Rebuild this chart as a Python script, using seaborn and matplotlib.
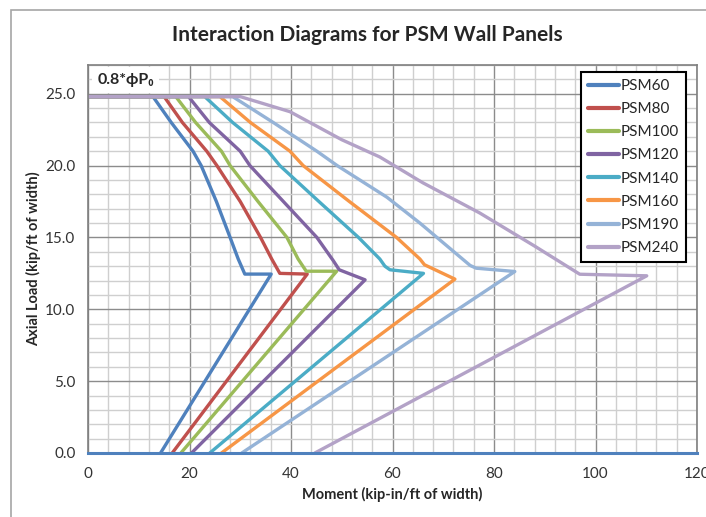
import matplotlib
matplotlib.use('Agg')
import matplotlib.pyplot as plt
from matplotlib import font_manager
from matplotlib.patches import Rectangle
from matplotlib.ticker import MultipleLocator, FormatStrFormatter
import seaborn as sns
import pandas as pd

# --- Data (moment in kip-in/ft, axial load in kip/ft) ---
psm60_m = [0, 12.8, 16.4, 20.7, 22.3, 25.3, 28.0, 29.6, 30.9, 36.1, 14.3]
psm60_p = [24.8, 24.8, 23.0, 21.0, 20.0, 17.5, 15.0, 13.5, 12.45, 12.45, 0.0]

psm80_m = [0, 15.0, 18.6, 23.4, 25.4, 30.0, 34.0, 36.2, 37.8, 43.2, 16.6]
psm80_p = [24.8, 24.8, 23.0, 21.0, 20.0, 17.5, 15.0, 13.5, 12.5, 12.45, 0.0]

psm100_m = [0, 17.3, 21.2, 26.3, 28.0, 33.5, 39.2, 41.4, 43.0, 49.0, 18.3]
psm100_p = [24.8, 24.8, 23.0, 21.0, 20.0, 17.5, 15.0, 13.5, 12.65, 12.65, 0.0]

psm120_m = [0, 19.8, 23.9, 30.0, 31.9, 38.5, 45.1, 48.3, 49.5, 54.6, 20.4]
psm120_p = [24.8, 24.8, 23.0, 21.0, 20.0, 17.5, 15.0, 13.4, 12.75, 12.05, 0.0]

psm140_m = [0, 23.0, 28.5, 35.5, 37.8, 45.5, 53.3, 57.5, 58.5, 59.5, 66.1, 24.0]
psm140_p = [24.8, 24.8, 23.0, 21.0, 20.0, 17.5, 15.0, 13.5, 13.0, 12.75, 12.5, 0.0]

psm160_m = [0, 26.0, 32.0, 39.8, 42.4, 51.5, 60.8, 65.4, 66.3, 72.3, 26.3]
psm160_p = [24.8, 24.8, 23.0, 21.0, 20.0, 17.5, 15.0, 13.5, 13.1, 12.1, 0.0]

psm190_m = [0, 28.5, 36.5, 45.1, 49.1, 58.9, 65.4, 75.3, 76.5, 84.1, 30.3]
psm190_p = [24.8, 24.8, 23.0, 21.0, 20.0, 17.8, 16.0, 13.05, 12.86, 12.63, 0.0]

psm240_m = [0, 30.0, 39.8, 50.0, 57.5, 66.0, 77.2, 88.0, 96.9, 110.1, 44.7]
psm240_p = [24.8, 24.8, 23.75, 21.8, 20.6, 18.8, 16.7, 14.4, 12.44, 12.33, 0.0]

panels = ['PSM60', 'PSM80', 'PSM100', 'PSM120', 'PSM140', 'PSM160', 'PSM190', 'PSM240']
moments = [psm60_m, psm80_m, psm100_m, psm120_m, psm140_m, psm160_m, psm190_m, psm240_m]
loads = [psm60_p, psm80_p, psm100_p, psm120_p, psm140_p, psm160_p, psm190_p, psm240_p]
colors = ['#4F81BD', '#C0504D', '#9BBB59', '#8064A2',
          '#4BACC6', '#F79646', '#95B3D7', '#B3A2C7']

rows = []
for name, m_vals, p_vals in zip(panels, moments, loads):
    for i, (m, p) in enumerate(zip(m_vals, p_vals)):
        rows.append({'panel': name, 'order': i, 'moment': m, 'load': p})
df = pd.DataFrame(rows)

sns.set_style('white')

# narrow font if there is one, else Lato (closest to the Calibri look)
installed = {f.name for f in font_manager.fontManager.ttflist}
main_font = 'Liberation Sans Narrow' if 'Liberation Sans Narrow' in installed else 'Lato'
plt.rcParams['font.family'] = [main_font, 'DejaVu Sans']

fig = plt.figure(figsize=(7.06, 5.17), dpi=100)
ax = fig.add_axes([88 / 706, 64 / 517, 609 / 706, 388 / 517])

sns.lineplot(data=df, x='moment', y='load', hue='panel', units='panel',
             estimator=None, sort=False, palette=dict(zip(panels, colors)),
             hue_order=panels, linewidth=2.4, ax=ax, legend=False)

ax.set_xlim(0, 120)
ax.set_ylim(0, 27)
ax.xaxis.set_major_locator(MultipleLocator(20))
ax.xaxis.set_minor_locator(MultipleLocator(4))
ax.yaxis.set_major_locator(MultipleLocator(5))
ax.yaxis.set_minor_locator(MultipleLocator(1))
ax.yaxis.set_major_formatter(FormatStrFormatter('%.1f'))
ax.grid(which='major', color='#8c8c8c', linewidth=1.0)
ax.grid(which='minor', color='#cfcfcf', linewidth=1.0)
ax.set_axisbelow(True)
ax.tick_params(which='major', length=4, width=1, color='#808080',
               labelsize=11, labelcolor='#333333', pad=5)
ax.tick_params(which='minor', length=0)
ax.tick_params(axis='x', pad=6)

for side in ['top', 'right', 'left']:
    ax.spines[side].set_color('#7f7f7f')
    ax.spines[side].set_linewidth(1.2)
ax.spines['bottom'].set_color('#4F81BD')
ax.spines['bottom'].set_linewidth(2.2)

ax.set_xlabel('Moment (kip-in/ft of width)', fontsize=10.5, fontweight='bold', labelpad=4)
ax.set_ylabel('Axial Load (kip/ft of width)', fontsize=10.5, fontweight='bold', labelpad=3)
fig.text(367 / 706, 1 - 35 / 517, 'Interaction Diagrams for PSM Wall Panels',
         ha='center', va='center', fontsize=15, fontweight='bold')

ax.text(1.8, 25.95, '0.8*ϕP₀', fontsize=11.5, fontweight='bold', va='center', ha='left',
        bbox=dict(facecolor='white', edgecolor='none', pad=4))

handles = [plt.Line2D([], [], color=c, linewidth=3) for c in colors]
leg = ax.legend(handles, panels, loc='upper right', bbox_to_anchor=(0.982, 0.982),
                borderaxespad=0, fontsize=11, handlelength=2.0, handletextpad=0.15,
                labelspacing=0.6, borderpad=0.45, frameon=True, fancybox=False,
                framealpha=1)
leg.get_frame().set_edgecolor('black')
leg.get_frame().set_linewidth(1.5)

# outer chart frame (cropped on the right and bottom)
fig.add_artist(Rectangle((11 / 706, -0.1), 1.2, 1.1 - 10 / 517, transform=fig.transFigure,
                         fill=False, edgecolor='#a6a6a6', linewidth=1.2))

fig.savefig('out.png', dpi=100)
